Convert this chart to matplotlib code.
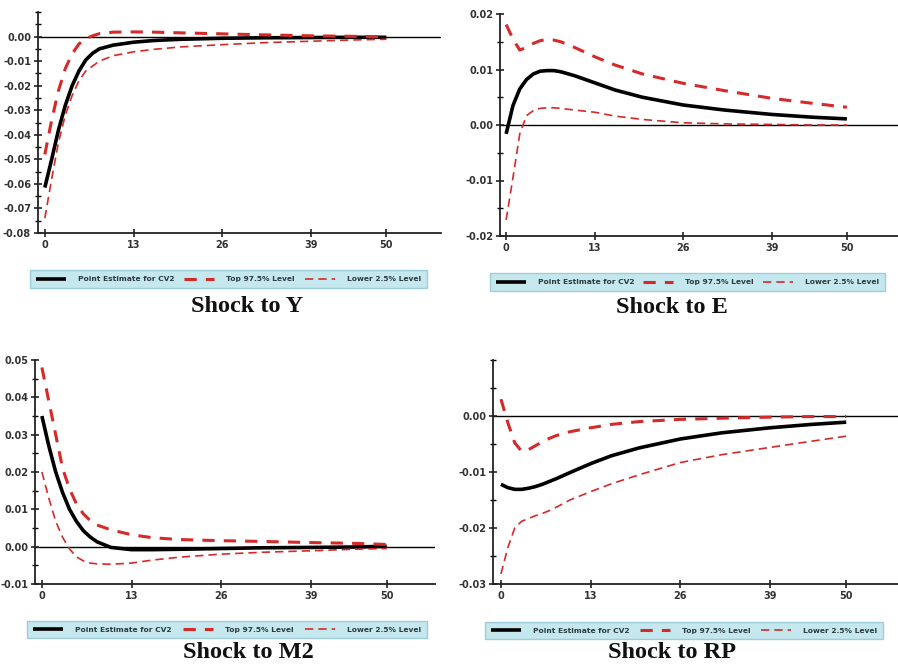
"""
Impulse responses (point estimate + 95% bands) for four shocks
"""
import numpy as np
import matplotlib.pyplot as plt
from matplotlib.ticker import MultipleLocator

W, H = 898, 669

# horizons
horizon = [0, 1, 2, 3, 4, 5, 6, 7, 8, 10, 13, 16, 20, 26, 32, 39, 45, 50]

# Shock to Y
y_point = [-0.0615, -0.050, -0.038, -0.028, -0.020, -0.014, -0.0095, -0.0068, -0.0050,
           -0.0035, -0.0023, -0.0016, -0.0011, -0.0007, -0.0005, -0.0004, -0.0003, -0.0003]
y_top = [-0.048, -0.034, -0.022, -0.013, -0.007, -0.003, -0.0008, 0.0003, 0.0012,
         0.0018, 0.0019, 0.0018, 0.0015, 0.0011, 0.0007, 0.0003, 0.0001, -0.0001]
y_low = [-0.074, -0.058, -0.043, -0.032, -0.024, -0.018, -0.014, -0.012, -0.010,
         -0.0078, -0.0062, -0.0052, -0.0042, -0.0033, -0.0025, -0.0019, -0.0014, -0.0011]

# Shock to E
e_point = [-0.0016, 0.0035, 0.0065, 0.0082, 0.0092, 0.0097, 0.0098, 0.0098, 0.0096,
           0.0089, 0.0076, 0.0063, 0.0050, 0.0036, 0.0027, 0.0019, 0.0014, 0.0011]
e_top = [0.0181, 0.0155, 0.0135, 0.0140, 0.0147, 0.0152, 0.0154, 0.0153, 0.0150,
         0.0140, 0.0123, 0.0108, 0.0092, 0.0075, 0.0062, 0.0048, 0.0039, 0.0032]
e_low = [-0.0171, -0.0095, -0.0016, 0.0017, 0.0026, 0.0030, 0.0031, 0.0031, 0.0030,
         0.0027, 0.0023, 0.0016, 0.0010, 0.0004, 0.0002, 0.0001, 0.0000, 0.0000]

# Shock to M2
m_point = [0.035, 0.027, 0.020, 0.0145, 0.010, 0.0068, 0.0043, 0.0026, 0.0013,
           -0.0002, -0.0008, -0.0008, -0.0007, -0.0005, -0.0003, -0.0002, -0.0001, 0.0001]
m_top = [0.048, 0.039, 0.030, 0.021, 0.0155, 0.0115, 0.0088, 0.0070, 0.0058,
         0.0045, 0.0032, 0.0024, 0.0019, 0.0016, 0.0014, 0.0011, 0.0009, 0.0006]
m_low = [0.020, 0.013, 0.0068, 0.0025, -0.0006, -0.0027, -0.0038, -0.0044, -0.0046,
         -0.0047, -0.0044, -0.0036, -0.0028, -0.0020, -0.0015, -0.0011, -0.0007, -0.0005]

# Shock to RP
r_point = [-0.0122, -0.0128, -0.0131, -0.0131, -0.0129, -0.0126, -0.0122, -0.0117, -0.0112,
           -0.0101, -0.0085, -0.0071, -0.0057, -0.0041, -0.0030, -0.0021, -0.0015, -0.0011]
r_top = [0.0030, -0.0012, -0.0048, -0.0063, -0.0060, -0.0053, -0.0046, -0.0040, -0.0035,
         -0.0028, -0.0021, -0.0015, -0.0010, -0.0006, -0.0004, -0.0002, -0.0001, -0.0001]
r_low = [-0.0282, -0.0235, -0.0200, -0.0188, -0.0183, -0.0178, -0.0174, -0.0169, -0.0163,
         -0.0150, -0.0135, -0.0121, -0.0105, -0.0083, -0.0069, -0.0056, -0.0045, -0.0036]

x_ticks = [0, 13, 26, 39, 50]
labels = ['Point Estimate for CV2', 'Top 97.5% Level', 'Lower 2.5% Level']

RED = '#d42a2a'


def px_box(left, top, right, bottom):
    return [left / W, 1 - bottom / H, (right - left) / W, (bottom - top) / H]


panels = [
    # axes box (px), xlim, ylim, y ticks, data, legend box (px), title, title pos
    dict(box=(38, 12, 441, 233), xlim=(-1.0, 58), ylim=(-0.08, 0.01),
         yt=np.arange(-0.08, 0.001, 0.01), data=(y_point, y_top, y_low),
         leg=(30, 271, 427, 287), title='Shock to Y', tpos=(247, 306)),
    dict(box=(500, 14, 898, 236), xlim=(-0.9, 57.5), ylim=(-0.02, 0.02),
         yt=np.arange(-0.02, 0.021, 0.01), data=(e_point, e_top, e_low),
         leg=(490, 274, 885, 290), title='Shock to E', tpos=(672, 307)),
    dict(box=(35, 360, 435, 584), xlim=(-1.0, 57), ylim=(-0.01, 0.05),
         yt=np.arange(-0.01, 0.051, 0.01), data=(m_point, m_top, m_low),
         leg=(27, 622, 427, 637), title='Shock to M2', tpos=(248, 653)),
    dict(box=(493, 360, 898, 584), xlim=(-1.15, 57.5), ylim=(-0.03, 0.01),
         yt=np.arange(-0.03, 0.001, 0.01), data=(r_point, r_top, r_low),
         leg=(485, 623, 883, 638), title='Shock to RP', tpos=(672, 653)),
]

fig = plt.figure(figsize=(W / 100, H / 100), dpi=100)
fig.patch.set_facecolor('white')

for p in panels:
    ax = fig.add_axes(px_box(*p['box']))
    pt, top, low = p['data']
    l1, = ax.plot(horizon, pt, color='black', lw=2.6, solid_capstyle='butt')
    l2, = ax.plot(horizon, top, color=RED, lw=2.2, dashes=(4, 3))
    l3, = ax.plot(horizon, low, color=RED, lw=1.2, dashes=(5, 3))
    ax.axhline(0, color='black', lw=1.0, zorder=1)

    ax.set_xlim(*p['xlim'])
    ax.set_ylim(*p['ylim'])
    ax.set_xticks(x_ticks)
    ax.set_yticks(p['yt'])
    ax.set_yticklabels([f'{v:.2f}'.replace('-0.00', '0.00') for v in p['yt']])
    ax.yaxis.set_minor_locator(MultipleLocator(0.005))

    for s in ('top', 'right'):
        ax.spines[s].set_visible(False)
    for s in ('left', 'bottom'):
        ax.spines[s].set_linewidth(1.3)
        ax.spines[s].set_color('#222222')
    ax.tick_params(axis='both', which='major', direction='inout', length=6,
                   width=1.2, labelsize=7, colors='#222222', pad=2)
    ax.tick_params(axis='y', which='minor', direction='inout', length=5, width=1.0)
    for t in ax.get_xticklabels() + ax.get_yticklabels():
        t.set_fontweight('bold')
        t.set_color('#333333')
    ax.patch.set_alpha(0)

    # legend strip
    lx0, ly0, lx1, ly1 = p['leg']
    leg = fig.legend([l1, l2, l3], labels, ncol=3, mode='expand',
                     bbox_to_anchor=(lx0 / W, 1 - ly1 / H, (lx1 - lx0) / W, (ly1 - ly0) / H),
                     loc='center', fontsize=5.4, frameon=True, fancybox=False,
                     borderpad=0.75, handlelength=4.0, handletextpad=1.6,
                     borderaxespad=0, columnspacing=1.0)
    leg.get_frame().set_facecolor('#b7e1ea')
    leg.get_frame().set_edgecolor('#8fc3ce')
    leg.get_frame().set_linewidth(1.0)
    for t in leg.get_texts():
        t.set_fontweight('bold')
        t.set_color('#2a3a40')

    fig.text(p['tpos'][0] / W, 1 - p['tpos'][1] / H, p['title'],
             ha='center', va='center', fontsize=17.5, fontweight='bold',
             family='Liberation Serif', color='#111111')

fig.savefig('out.png', dpi=100, facecolor='white')
plt.close(fig)
